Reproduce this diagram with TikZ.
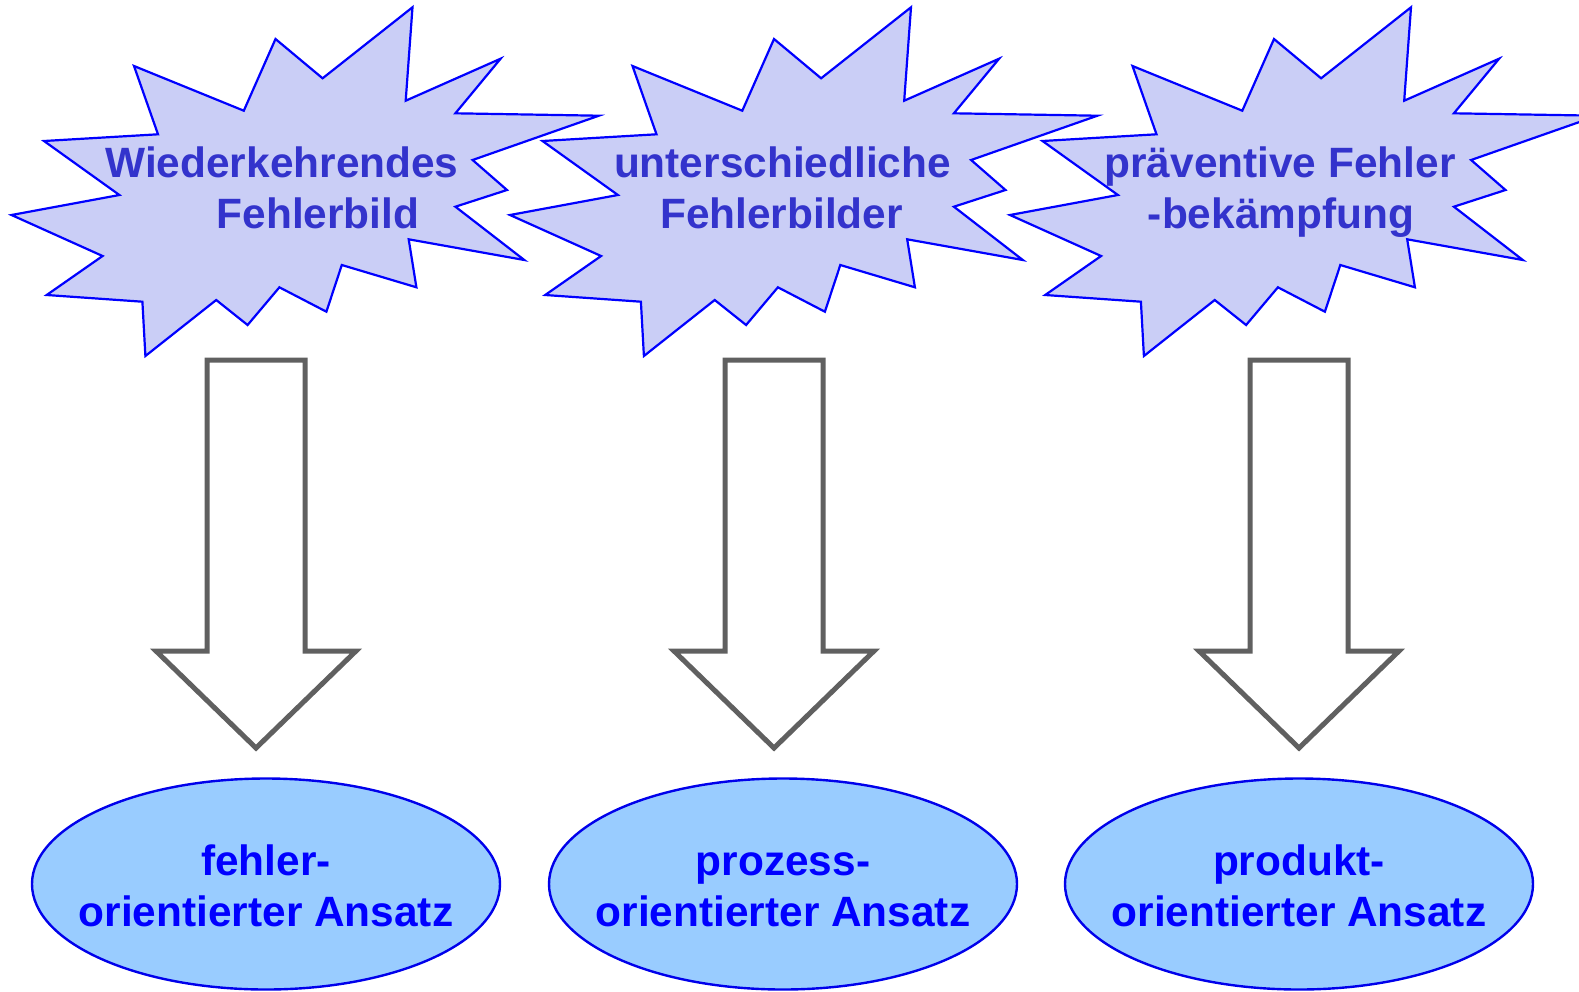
\documentclass[tikz,border=0pt]{standalone}
\usepackage{fontspec}
\setmainfont{Liberation Sans}
\usetikzlibrary{shapes.geometric}
\definecolor{burstfill}{RGB}{202,206,246}
\definecolor{burstline}{RGB}{0,0,255}
\definecolor{bursttext}{RGB}{51,51,204}
\definecolor{ellfill}{RGB}{153,204,255}
\definecolor{ellline}{RGB}{0,0,235}
\definecolor{elltext}{RGB}{0,0,255}
\definecolor{arrowgrey}{RGB}{96,96,96}
\tikzset{
  burst/.style={fill=burstfill, draw=burstline, line width=2.2pt, line join=miter},
  bursttxt/.style={anchor=base, inner sep=0pt, text=bursttext, font=\fontsize{42.4}{50}\selectfont\bfseries},
  ellbox/.style={ellipse, draw=ellline, fill=ellfill, line width=2.4pt, minimum width=468pt, minimum height=211pt, inner sep=0pt},
  elltxt/.style={anchor=base, inner sep=0pt, text=elltext, font=\fontsize{42.4}{50}\selectfont\bfseries},
  blockarrow/.style={draw=arrowgrey, fill=white, line width=5pt, line join=miter}
}
\newcommand{\burstpath}{(412.5,7.3) -- (405.7,100.7) -- (500.6,58.7) -- (455.4,113.3) -- (598.9,115.7) -- (472.6,160) -- (507,190) -- (455.4,206.7) -- (524.3,260) -- (408.7,239.3) -- (416.4,287.3) -- (341.8,265) -- (326.4,311.7) -- (279.4,287.3) -- (247.6,325) -- (216.2,300) -- (145.4,356) -- (142.4,301.7) -- (46.7,295) -- (102.6,256) -- (11.5,215) -- (119.4,195) -- (44,141) -- (158,134.3) -- (134,66) -- (243.8,110.7) -- (275.5,39) -- (322.6,78.3) -- cycle}
\newcommand{\blockarrowat}[1]{\draw[blockarrow] (#1-49,360) -- (#1+49,360) -- (#1+49,651) -- (#1+100,651) -- (#1,748) -- (#1-100,651) -- (#1-49,651) -- cycle;}
\begin{document}
\begin{tikzpicture}[x=1pt,y=-1pt]
\useasboundingbox (0,0) rectangle (1579,991);
\begin{scope}
\clip (0,0) rectangle (1579,991);
% starbursts
\draw[burst] \burstpath;
\begin{scope}[xshift=498.5pt]
\draw[burst] \burstpath;
\end{scope}
\begin{scope}[xshift=998.5pt]
\draw[burst] \burstpath;
\end{scope}
\end{scope}
% starburst texts
\node[bursttxt] (b1a) at (282,177) {Wiederkehrendes};
\node[bursttxt] (b1b) at (318,228) {Fehlerbild};
\node[bursttxt] (b2a) at (782.5,177) {unterschiedliche};
\node[bursttxt] (b2b) at (781.5,228) {Fehlerbilder};
\node[bursttxt] (b3a) at (1280,177) {präventive Fehler};
\node[bursttxt] (b3b) at (1281,228) {-bekämpfung};
% block arrows
\blockarrowat{256}
\blockarrowat{774}
\blockarrowat{1299}
% ellipses
\node[ellbox] (e1) at (266,884) {};
\node[ellbox] (e2) at (783,884) {};
\node[ellbox] (e3) at (1299,884) {};
\node[elltxt] (e1a) at (266,875) {fehler-};
\node[elltxt] (e1b) at (266,926) {orientierter Ansatz};
\node[elltxt] (e2a) at (783,875) {prozess-};
\node[elltxt] (e2b) at (783,926) {orientierter Ansatz};
\node[elltxt] (e3a) at (1299,875) {produkt-};
\node[elltxt] (e3b) at (1299,926) {orientierter Ansatz};
\end{tikzpicture}
\end{document}
